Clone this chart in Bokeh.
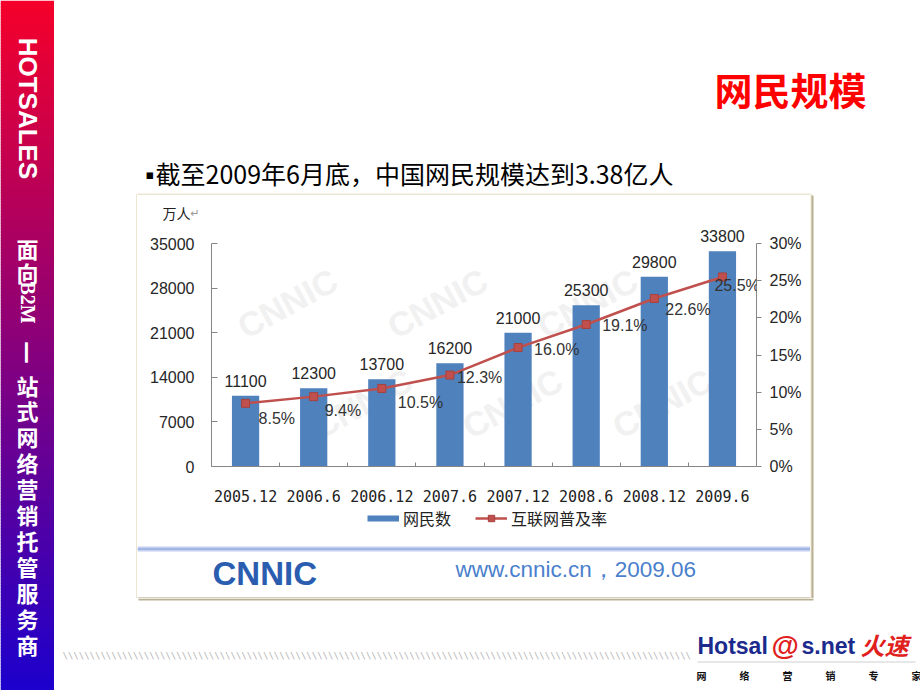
import math
from bokeh.plotting import figure
from bokeh.layouts import row, column
from bokeh.models import (ColumnDataSource, Range1d, LinearAxis, FixedTicker, PrintfTickFormatter,
                          BasicTickFormatter, LabelSet, Label, Legend, LegendItem)
from bokeh.core.properties import value
from bokeh.embed import file_html
from bokeh.resources import INLINE

# ---------------- data ----------------
periods = ["2005.12", "2006.6", "2006.12", "2007.6", "2007.12", "2008.6", "2008.12", "2009.6"]
netizens = [11100, 12300, 13700, 16200, 21000, 25300, 29800, 33800]      # 万人
penetration = [8.5, 9.4, 10.5, 12.3, 16.0, 19.1, 22.6, 25.5]            # %
left_ticks = [0, 7000, 14000, 21000, 28000, 35000]
right_ticks = [0, 5, 10, 15, 20, 25, 30]
series_names = ["网民数", "互联网普及率"]

# label nudges for the percentage labels (px right, px down) -- styling only
pct_dx = [13, 11, 16, 7, 16, 16, 11, -8]
pct_dy = [15, 14, 14, 2, 2, 1, 11, 9]

CJK = "Noto Sans CJK SC"
SANS = "Liberation Sans"
AX = "#868686"
BLUE = "#4f81bd"
RED = "#c0504d"
BORDER = "#dccda4"
SHADOW = "#b9b092"
WM = "#f1f1f1"

# plot-area geometry (px): axis height and extra head room above the top tick
AXIS_PX = 223
HEAD_PX = 15
head_frac = (AXIS_PX + HEAD_PX) / AXIS_PX

n = len(periods)
slot_center = [i + 0.5 for i in range(n)]
slot_bounds = list(range(1, n))


# ---------------- helpers for the decorative slide parts ----------------
def deco(w, h):
    f = figure(width=w, height=h, x_range=Range1d(0, w), y_range=Range1d(h, 0),
               output_backend="svg", toolbar_location=None, x_axis_location=None,
               y_axis_location=None, min_border=0, outline_line_color=None,
               background_fill_color="white", border_fill_color="white", frame_align=False)
    f.grid.grid_line_color = None
    f.title.visible = False
    return f


def txt(f, x, y, s, size, color="#000000", font=CJK, style="normal", align="left",
        baseline="middle", angle=0.0):
    f.text(x=[x], y=[y], text=[s], text_font=value(font), text_font_size=value(f"{size}px"),
           text_font_style=value(style), text_color=color, text_align=value(align),
           text_baseline=value(baseline), angle=angle)


def rect(f, l, t, r, b, color):
    f.quad(left=[l], right=[r], top=[t], bottom=[b], fill_color=color, line_color=None)


# ---------- side bar (x 0..54) ----------
side = deco(54, 690)
top_c, bot_c = (245, 0, 42), (28, 0, 204)
for i in range(0, 690, 3):
    tt = i / 687.0
    c = tuple(int(round(top_c[k] + (bot_c[k] - top_c[k]) * tt)) for k in range(3))
    rect(side, 0, i, 54, i + 4, "#%02x%02x%02x" % c)
txt(side, 27, 108, "HOTSALES", 26, "white", SANS, "bold", "center", angle=-math.pi / 2)
txt(side, 27, 247, "面", 22, "white", CJK, "bold", "center")
txt(side, 27, 271, "向", 22, "white", CJK, "bold", "center")
txt(side, 27, 302, "B2M", 20, "white", "Liberation Serif", "bold", "center", angle=-math.pi / 2)
txt(side, 27, 352, "一", 22, "white", CJK, "bold", "center", angle=-math.pi / 2)
for k, ch in enumerate("站式网络营销托管服务商"):
    txt(side, 27, 384 + 25.9 * k, ch, 22, "white", CJK, "bold", "center")

# ---------- head (x 54..920, y 0..193) ----------
head = deco(866, 193)
txt(head, 812, 88, "网民规模", 38, "#ff0000", CJK, "bold", "right")
txt(head, 91, 174, "▪", 13, "#000000", "DejaVu Sans")
txt(head, 101, 172, "截至2009年6月底，中国网民规模达到3.38亿人", 25, "#000000", CJK)

# ---------- left / right pads beside the panel (y 193..598) ----------
lpad = deco(83, 405)
rect(lpad, 82, 0, 83, 405, BORDER)
rpad = deco(110, 405)
rect(rpad, 0, 0, 1, 405, BORDER)
rect(rpad, 1, 2, 3, 405, SHADOW)

# ---------- panel top (x 137..810, y 193..223) ----------
ptop = deco(673, 30)
rect(ptop, 0, 0, 673, 1, BORDER)
txt(ptop, 25, 19, "万人", 14, "#222222", CJK)
txt(ptop, 53, 20, "↵", 11, "#9a9a9a", "DejaVu Sans")

# ---------- chart (x 137..810, y 223..505) ----------
p = figure(width=673, height=282, output_backend="svg", toolbar_location=None,
           x_range=Range1d(0, n), y_range=Range1d(0, left_ticks[-1] * head_frac),
           x_axis_location=None, y_axis_location=None,
           min_border_left=74, min_border_right=54, min_border_top=5, min_border_bottom=39,
           background_fill_color="white", border_fill_color="white", outline_line_color=None,
           frame_align=False)
p.title.visible = False
p.extra_y_ranges = {"pct": Range1d(0, right_ticks[-1] * head_frac)}
p.grid.grid_line_color = None

# faint CNNIC watermarks (canvas pixels of this figure), kept inside the frame
for wx, wy in [(150, 80), (300, 80), (450, 80), (225, 180), (375, 180), (525, 180)]:
    p.add_layout(Label(x=wx, y=wy, x_units="canvas", y_units="canvas", text="CNNIC",
                       text_font=SANS, text_font_size="34px", text_font_style="bold",
                       text_color=WM, text_align="center", text_baseline="middle",
                       angle=0.5, level="underlay"))

src = ColumnDataSource(dict(
    x=slot_center, period=periods, users=netizens, users_txt=[str(v) for v in netizens],
    pct=penetration, pct_txt=[f"{v:.1f}%" for v in penetration],
    dx=pct_dx, dy=[-d for d in pct_dy]))

bars = p.vbar(x="x", top="users", width=0.4, source=src, fill_color=BLUE, line_color=None)
line = p.line(x="x", y="pct", y_range_name="pct", source=src, line_color=RED, line_width=2.5)
marks = p.scatter(x="x", y="pct", y_range_name="pct", source=src, marker="square",
                  size=8, fill_color=RED, line_color="#a8403c")

p.add_layout(LabelSet(x="x", y="users", text="users_txt", source=src, y_offset=9,
                      text_align="center", text_baseline="alphabetic",
                      text_font=value(SANS), text_font_size=value("16px"),
                      text_color="#262626"))
p.add_layout(LabelSet(x="x", y="pct", y_range_name="pct", text="pct_txt", source=src,
                      x_offset="dx", y_offset="dy", text_align="left", text_baseline="middle",
                      text_font=value(SANS), text_font_size=value("16px"),
                      text_color="#333333"))

yl = LinearAxis(ticker=FixedTicker(ticks=left_ticks), bounds=(left_ticks[0], left_ticks[-1]),
                formatter=BasicTickFormatter(use_scientific=False),
                axis_line_color=AX, major_tick_line_color=AX, major_tick_in=6, major_tick_out=0,
                minor_tick_line_color=None, major_label_standoff=17,
                major_label_text_font=SANS, major_label_text_font_size="16px",
                major_label_text_color="#262626")
p.add_layout(yl, "left")

yr = LinearAxis(y_range_name="pct", ticker=FixedTicker(ticks=right_ticks),
                bounds=(right_ticks[0], right_ticks[-1]),
                formatter=PrintfTickFormatter(format="%d%%"),
                axis_line_color=AX, major_tick_line_color=AX, major_tick_in=0, major_tick_out=5,
                minor_tick_line_color=None, major_label_standoff=8,
                major_label_text_font=SANS, major_label_text_font_size="16px",
                major_label_text_color="#262626")
p.add_layout(yr, "right")

# category labels at slot centres, small inward ticks at slot boundaries
xc = LinearAxis(ticker=FixedTicker(ticks=slot_center, minor_ticks=slot_bounds),
                major_label_overrides={c: lab for c, lab in zip(slot_center, periods)},
                axis_line_color=AX, major_tick_line_color=None,
                minor_tick_line_color=AX, minor_tick_in=4, minor_tick_out=0,
                major_label_standoff=17, major_label_text_font="DejaVu Sans Mono",
                major_label_text_font_size="15px", major_label_text_color="#222222")
p.add_layout(xc, "below")

# ---------- panel foot (x 137..810, y 505..598): legend + source ----------
foot = deco(673, 93)
# legend proxies (kept outside the visible area)
leg_bar = foot.line(x=[-60, -50], y=[-60, -60], line_color=BLUE, line_width=6)
leg_line = foot.line(x=[-60, -50], y=[-60, -60], line_color=RED, line_width=2.5)
leg_mark = foot.scatter(x=[-55], y=[-60], marker="square", size=8, fill_color=RED,
                        line_color="#a8403c")
legend = Legend(items=[LegendItem(label=series_names[0], renderers=[leg_bar]),
                       LegendItem(label=series_names[1], renderers=[leg_line, leg_mark])],
                location=(230, 68), orientation="horizontal",
                glyph_width=32, glyph_height=16, label_standoff=4, spacing=24,
                padding=0, margin=0, border_line_color=None, background_fill_alpha=0,
                label_text_font=CJK, label_text_font_size="16px", label_text_color="#222222")
foot.add_layout(legend)
rect(foot, 0, 41, 673, 46, "#c3d0ef")
rect(foot, 0, 42.5, 673, 44.5, "#a4b7e4")
txt(foot, 75, 68, "CNNIC", 33, "#2a5db0", SANS, "bold")
txt(foot, 318, 64, "www.cnnic.cn，2009.06", 22.5, "#4a7fcc", SANS)
rect(foot, 0, 92, 673, 93, "#a89c74")

# ---------- tail (x 54..920, y 598..690) ----------
tail = deco(866, 92)
rect(tail, 84, 0, 759, 2, SHADOW)
txt(tail, 8, 57, "\\" * 116, 9, "#b4b4b4", "DejaVu Sans Mono")
txt(tail, 643, 47, "Hotsal", 23, "#1b2a8c", SANS, "bold")
txt(tail, 717, 47, "@", 28, "#e0201c", SANS, "bold")
txt(tail, 747, 47, "s.net", 23, "#1b2a8c", SANS, "bold")
txt(tail, 806, 46, "火速", 24, "#e0201c", CJK, "bold italic")
rect(tail, 643, 63, 861, 64, "#d0d0d0")
for k, ch in enumerate("网络营销专家"):
    txt(tail, 647 + 43 * k, 77, ch, 10, "#111111", CJK, "bold", "center")

# ---------- assemble ----------
panel = column(ptop, p, foot, spacing=0)
mid = row(lpad, panel, rpad, spacing=0)
main = column(head, mid, tail, spacing=0)
page = row(side, main, spacing=0)

open("out.html", "w").write(file_html(page, INLINE))
